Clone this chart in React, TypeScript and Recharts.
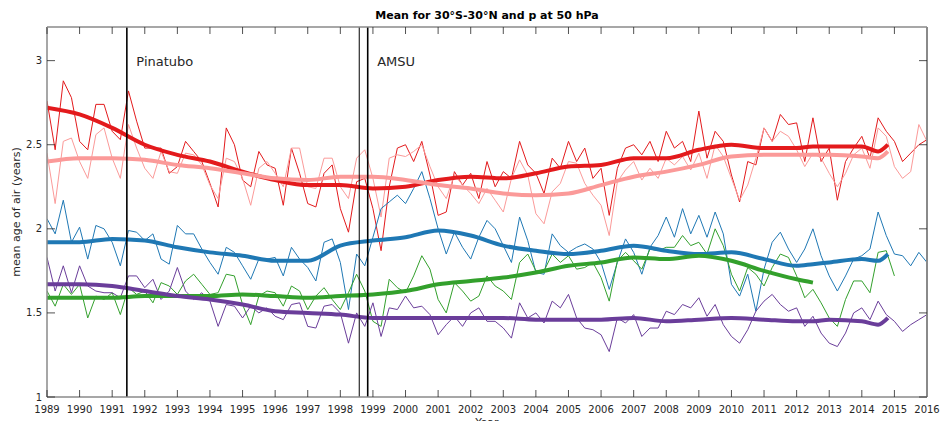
import React from "react";
import { LineChart, Line, XAxis, YAxis, ReferenceLine } from "recharts";

const FONT = "DejaVu Sans, Verdana, sans-serif";
const INK = "#262626";
const FRAME = "#8a8a8a";

const TITLE = "Mean for 30°S-30°N and p at 50 hPa";

const WIDTH = 940;
const HEIGHT = 421;
const MARGIN = { top: 27, right: 13, bottom: 0, left: 0 };
const Y_AXIS_W = 47;
const X_AXIS_H = 24;
const PLOT_W = WIDTH - MARGIN.left - MARGIN.right - Y_AXIS_W;
const PLOT_H = HEIGHT - MARGIN.top - MARGIN.bottom - X_AXIS_H;

// sampling grid of the thin (noisy) series: quarterly from 1989
const START_YEAR = 1989;
const STEP = 0.25;

const X_MIN = 1989;
const X_MAX = 2016;
const Y_MIN = 1;
const Y_MAX = 3.2;

const xTicks = [
  1989, 1990, 1991, 1992, 1993, 1994, 1995, 1996, 1997, 1998, 1999, 2000, 2001, 2002,
  2003, 2004, 2005, 2006, 2007, 2008, 2009, 2010, 2011, 2012, 2013, 2014, 2015, 2016,
];
const yTicks = [1, 1.5, 2, 2.5, 3];

// thin lines (quarterly readings)
const redThin = [
  2.76, 2.47, 2.88, 2.78, 2.52, 2.47, 2.74, 2.74, 2.58, 2.53, 2.82, 2.64, 2.48, 2.48, 2.48, 2.33, 2.37, 2.52, 2.46, 2.40, 2.27, 2.13, 2.60, 2.50, 2.29, 2.25, 2.46, 2.38,
  2.36, 2.14, 2.48, 2.33, 2.15, 2.13, 2.33, 2.38, 2.12, 1.98, 2.28, 2.30, 2.12, 1.87, 2.25, 2.48, 2.50, 2.40, 2.52, 2.32, 2.08, 2.10, 2.34, 2.26, 2.33, 2.18, 2.40,
  2.25, 2.34, 2.30, 2.52, 2.38, 2.33, 2.21, 2.42, 2.36, 2.52, 2.40, 2.48, 2.30, 2.36, 2.08, 2.36, 2.48, 2.50, 2.44, 2.52, 2.40, 2.58, 2.48, 2.52, 2.40, 2.70, 2.42,
  2.58, 2.52, 2.32, 2.16, 2.40, 2.38, 2.60, 2.52, 2.68, 2.62, 2.63, 2.40, 2.66, 2.40, 2.48, 2.17, 2.40, 2.48, 2.55, 2.42, 2.66, 2.58, 2.52, 2.40, 2.45, 2.50, 2.53,
];
const pinkThin = [
  2.45, 2.15, 2.52, 2.54, 2.40, 2.30, 2.56, 2.60, 2.42, 2.30, 2.62, 2.48, 2.36, 2.30, 2.46, 2.34, 2.33, 2.45, 2.44, 2.38, 2.26, 2.18, 2.42, 2.40, 2.30, 2.14, 2.36, 2.40,
  2.33, 2.25, 2.48, 2.48, 2.25, 2.24, 2.42, 2.42, 2.25, 2.18, 2.42, 2.47, 2.30, 2.07, 2.42, 2.44, 2.43, 2.46, 2.50, 2.37, 2.25, 2.18, 2.32, 2.26, 2.21, 2.15, 2.24,
  2.17, 2.10, 2.30, 2.41, 2.32, 2.09, 2.03, 2.22, 2.27, 2.40, 2.39, 2.27, 2.20, 2.14, 1.96, 2.28, 2.35, 2.40, 2.29, 2.36, 2.30, 2.42, 2.38, 2.43, 2.35, 2.45, 2.30,
  2.50, 2.43, 2.30, 2.17, 2.26, 2.42, 2.60, 2.52, 2.58, 2.55, 2.47, 2.37, 2.45, 2.42, 2.33, 2.25, 2.33, 2.44, 2.48, 2.36, 2.60, 2.55, 2.37, 2.30, 2.34, 2.62, 2.52,
];
const blueThin = [
  2.06, 1.97, 2.17, 1.92, 2.01, 1.82, 2.02, 2.00, 1.92, 1.78, 1.99, 1.98, 1.93, 1.97, 1.82, 1.79, 2.02, 1.97, 1.97, 1.88, 1.80, 1.73, 1.89, 1.86, 1.78, 1.70, 1.82, 1.82,
  1.83, 1.72, 1.89, 1.82, 1.77, 1.69, 1.92, 1.94, 1.80, 1.52, 1.85, 1.78, 1.95, 2.12, 2.16, 2.20, 2.15, 2.24, 2.34, 2.18, 2.00, 1.85, 1.98, 1.89, 1.82, 1.95, 2.05,
  2.00, 1.90, 1.80, 2.07, 1.93, 1.74, 1.73, 1.97, 1.90, 1.86, 1.89, 1.91, 1.88, 1.80, 1.64, 1.80, 1.94, 1.86, 1.73, 1.89, 1.96, 2.07, 1.95, 2.12, 1.97, 2.08, 1.95,
  2.10, 1.97, 1.67, 1.60, 1.73, 1.51, 1.76, 1.92, 1.98, 1.88, 1.80, 1.88, 2.00, 1.84, 1.72, 1.63, 1.72, 1.82, 1.84, 1.88, 2.10, 1.96, 1.85, 1.84, 1.78, 1.86, 1.80,
];
const greenThin = [
  1.63, 1.54, 1.67, 1.61, 1.67, 1.47, 1.60, 1.58, 1.62, 1.49, 1.65, 1.61, 1.63, 1.56, 1.68, 1.66, 1.61, 1.69, 1.73, 1.67, 1.61, 1.62, 1.73, 1.72, 1.55, 1.43, 1.60, 1.63,
  1.62, 1.54, 1.66, 1.63, 1.52, 1.60, 1.65, 1.58, 1.52, 1.62, 1.73, 1.63, 1.45, 1.42, 1.70, 1.65, 1.62, 1.72, 1.84, 1.76, 1.58, 1.50, 1.68, 1.63, 1.57, 1.60, 1.72,
  1.66, 1.63, 1.58, 1.80, 1.85, 1.75, 1.75, 1.85, 1.80, 1.84, 1.76, 1.77, 1.80, 1.71, 1.57, 1.81, 1.86, 1.81, 1.76, 1.88, 1.87, 1.89, 1.89, 1.96, 1.90, 1.92, 1.85,
  2.00, 1.90, 1.73, 1.63, 1.77, 1.73, 1.66, 1.77, 1.85, 1.83, 1.72, 1.59, 1.64, 1.56, 1.47, 1.42, 1.58, 1.69, 1.69, 1.62, 1.86, 1.87, 1.72,
];
const purpleThin = [
  1.83, 1.63, 1.78, 1.62, 1.78, 1.66, 1.63, 1.62, 1.62, 1.59, 1.72, 1.72, 1.65, 1.70, 1.58, 1.63, 1.77, 1.63, 1.58, 1.62, 1.57, 1.42, 1.55, 1.54, 1.47, 1.54, 1.50, 1.53,
  1.48, 1.46, 1.55, 1.56, 1.42, 1.41, 1.54, 1.55, 1.50, 1.32, 1.50, 1.42, 1.56, 1.36, 1.53, 1.52, 1.60, 1.53, 1.54, 1.49, 1.37, 1.43, 1.48, 1.42, 1.50, 1.53, 1.45,
  1.45, 1.41, 1.35, 1.56, 1.47, 1.50, 1.44, 1.57, 1.53, 1.61, 1.47, 1.41, 1.40, 1.37, 1.27, 1.47, 1.44, 1.49, 1.36, 1.41, 1.41, 1.51, 1.49, 1.55, 1.53, 1.59, 1.48,
  1.55, 1.43, 1.36, 1.32, 1.40, 1.51, 1.57, 1.61, 1.55, 1.51, 1.53, 1.42, 1.48, 1.38, 1.32, 1.30, 1.38, 1.50, 1.53, 1.46, 1.57, 1.49, 1.45, 1.39, 1.43, 1.46, 1.49,
];

// thick smoothed lines
const smoothYears = [
  1989, 1990, 1991, 1992, 1993, 1994, 1995, 1996, 1997, 1998, 1999, 2000, 2001, 2002,
  2003, 2004, 2005, 2006, 2007, 2008, 2009, 2010, 2011, 2012, 2012.5, 2013, 2014, 2014.5, 2014.8,
];
const redSmooth = [2.72, 2.68, 2.6, 2.5, 2.44, 2.4, 2.34, 2.29, 2.26, 2.26, 2.24, 2.25, 2.29, 2.31, 2.3, 2.33, 2.37, 2.38, 2.42, 2.42, 2.47, 2.5, 2.48, 2.48, 2.49, 2.49, 2.49, 2.46, 2.5];
const pinkSmooth = [2.4, 2.42, 2.42, 2.41, 2.38, 2.36, 2.33, 2.3, 2.29, 2.31, 2.31, 2.29, 2.26, 2.24, 2.21, 2.2, 2.21, 2.26, 2.31, 2.34, 2.38, 2.43, 2.44, 2.44, 2.44, 2.44, 2.43, 2.42, 2.46];
const blueSmooth = [1.92, 1.92, 1.94, 1.93, 1.89, 1.86, 1.84, 1.81, 1.81, 1.9, 1.93, 1.95, 1.99, 1.96, 1.9, 1.87, 1.85, 1.87, 1.9, 1.87, 1.85, 1.86, 1.82, 1.78, 1.79, 1.8, 1.82, 1.81, 1.85];
const greenSmooth = [1.59, 1.59, 1.59, 1.6, 1.6, 1.6, 1.61, 1.6, 1.59, 1.6, 1.61, 1.63, 1.67, 1.69, 1.71, 1.74, 1.78, 1.8, 1.83, 1.82, 1.84, 1.81, 1.75, 1.7, 1.68];
const purpleSmooth = [1.67, 1.67, 1.66, 1.63, 1.6, 1.58, 1.55, 1.51, 1.5, 1.49, 1.47, 1.47, 1.47, 1.47, 1.47, 1.46, 1.46, 1.46, 1.47, 1.45, 1.46, 1.47, 1.46, 1.45, 1.45, 1.46, 1.45, 1.43, 1.47];

const events = [
  { x: 1991.45, width: 1.6, label: "Pinatubo" },
  { x: 1998.58, width: 1, label: "" },
  { x: 1998.84, width: 1.6, label: "AMSU" },
];

const colors = {
  red: "#e31a1c",
  pink: "#fb9a99",
  blue: "#1f78b4",
  green: "#33a02c",
  purple: "#6a3d9a",
};
const keys = ["red", "pink", "blue", "green", "purple"] as const;

const thinData = redThin.map((v, i) => ({
  t: START_YEAR + i * STEP,
  red: v,
  pink: pinkThin[i],
  blue: blueThin[i],
  green: greenThin[i] ?? null,
  purple: purpleThin[i],
}));

const smoothData = smoothYears.map((t, i) => ({
  t,
  red: redSmooth[i],
  pink: pinkSmooth[i],
  blue: blueSmooth[i],
  green: greenSmooth[i] ?? null,
  purple: purpleSmooth[i],
}));

// bottom ticks also draw the mirrored top ticks, and the first/last one the top/right box edges
function BottomTick({ x, y, payload }: any) {
  const top = y - PLOT_H;
  return (
    <g>
      <line x1={x} y1={y} x2={x} y2={y - 7} stroke={INK} strokeWidth={0.8} />
      <line x1={x} y1={top} x2={x} y2={top + 7} stroke={INK} strokeWidth={0.8} />
      {payload.value === X_MIN && <line x1={x} y1={top} x2={x + PLOT_W} y2={top} stroke={FRAME} strokeWidth={1.5} />}
      {payload.value === X_MAX && <line x1={x} y1={top} x2={x} y2={y} stroke={FRAME} strokeWidth={2} />}
      <text x={x} y={y + 12} textAnchor="middle" dominantBaseline="central" fontSize={10} fill={INK} fontFamily={FONT}>
        {payload.value}
      </text>
    </g>
  );
}

// left ticks also draw the mirrored right ticks
function LeftTick({ x, y, payload }: any) {
  const right = x + PLOT_W;
  return (
    <g>
      <line x1={x} y1={y} x2={x + 8} y2={y} stroke={INK} strokeWidth={0.8} />
      <line x1={right} y1={y} x2={right - 8} y2={y} stroke={INK} strokeWidth={0.8} />
      <text x={x - 5} y={y} textAnchor="end" dominantBaseline="central" fontSize={10} fill={INK} fontFamily={FONT}>
        {payload.value}
      </text>
    </g>
  );
}

function EventLabel({ viewBox, text }: any) {
  if (!viewBox || !text) return null;
  return (
    <text x={viewBox.x + 9.5} y={viewBox.y + 34} dominantBaseline="central" fontSize={13} fill={INK} fontFamily={FONT}>
      {text}
    </text>
  );
}

function YTitle({ viewBox }: any) {
  const cx = viewBox.x + 16;
  const cy = viewBox.y + viewBox.height / 2;
  return (
    <text transform={`translate(${cx},${cy}) rotate(-90)`} textAnchor="middle" dominantBaseline="central" fontSize={11} fill={INK} fontFamily={FONT}>
      mean age of air (years)
    </text>
  );
}

function XTitle({ viewBox }: any) {
  return (
    <text x={viewBox.x + viewBox.width / 2} y={viewBox.y + 29} textAnchor="middle" fontSize={11} fill={INK} fontFamily={FONT}>
      Year
    </text>
  );
}

export default function App() {
  return (
    <div style={{ position: "absolute", left: 0, top: 0, width: WIDTH, height: HEIGHT, background: "#fff", fontFamily: FONT }}>
      <LineChart width={WIDTH} height={HEIGHT} margin={MARGIN}>
        <XAxis
          dataKey="t"
          type="number"
          domain={[X_MIN, X_MAX]}
          ticks={xTicks}
          interval={0}
          allowDataOverflow
          height={X_AXIS_H}
          tickSize={0}
          tickMargin={0}
          tick={<BottomTick />}
          axisLine={{ stroke: FRAME, strokeWidth: 1.5 }}
          label={<XTitle />}
        />
        <YAxis
          type="number"
          domain={[Y_MIN, Y_MAX]}
          ticks={yTicks}
          interval={0}
          allowDataOverflow
          width={Y_AXIS_W}
          tickSize={0}
          tickMargin={0}
          tick={<LeftTick />}
          axisLine={{ stroke: FRAME, strokeWidth: 1.5 }}
          label={<YTitle />}
        />

        {keys.map((k) => (
          <Line
            key={`thin-${k}`}
            data={thinData}
            dataKey={k}
            type="linear"
            stroke={colors[k]}
            strokeWidth={1}
            dot={false}
            activeDot={false}
            isAnimationActive={false}
          />
        ))}
        {keys.map((k) => (
          <Line
            key={`thick-${k}`}
            data={smoothData}
            dataKey={k}
            type="monotone"
            stroke={colors[k]}
            strokeWidth={4}
            dot={false}
            activeDot={false}
            isAnimationActive={false}
          />
        ))}

        {events.map((e) => (
          <ReferenceLine
            key={e.x}
            x={e.x}
            stroke="#000"
            strokeWidth={e.width}
            label={<EventLabel text={e.label} />}
          />
        ))}
      </LineChart>
      <div
        style={{
          position: "absolute",
          left: 47,
          top: 9,
          width: 880,
          textAlign: "center",
          fontSize: 11,
          fontWeight: "bold",
          lineHeight: "14px",
          color: "#000",
        }}
      >
        {TITLE}
      </div>
    </div>
  );
}
